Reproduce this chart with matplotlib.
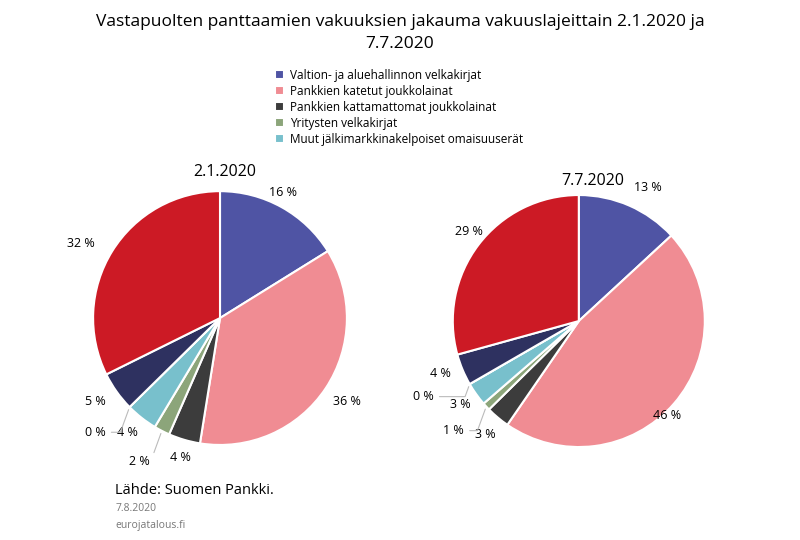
import matplotlib.pyplot as plt
import numpy as np

# categories (legend shows only the first five)
categories = ["Valtion- ja aluehallinnon velkakirjat", "Pankkien katetut joukkolainat",
              "Pankkien kattamattomat joukkolainat", "Yritysten velkakirjat",
              "Muut jälkimarkkinakelpoiset omaisuuserät", "Muu 1", "Muu 2", "Muu 3"]
values_jan = [16, 36, 4, 2, 4, 0, 5, 32]
values_jul = [13, 46, 3, 1, 3, 0, 4, 29]
colors = ["#4F54A4", "#F08C93", "#3C3C3C", "#8CA57A", "#78C0CC", "#DDDDDD", "#2E3160", "#CC1A25"]

# label positions (axes data coords, radius 1)
pos_jan = [(0.5, 0.99), (1.0, -0.66), (-0.31, -1.1), (-0.55, -1.13), (-0.73, -0.9),
           (-0.9, -0.9), (-0.98, -0.66), (-1.1, 0.59)]
pos_jul = [(0.55, 1.06), (0.7, -0.75), (-0.74, -0.9), (-0.91, -0.87), (-0.94, -0.66),
           (-1.15, -0.6), (-1.1, -0.42), (-0.87, 0.71)]
leader = [3, 5]

fig = plt.figure(figsize=(8, 5.4), dpi=100)
plt.rcParams['font.family'] = 'Open Sans'

fig.text(0.5, 0.975, "Vastapuolten panttaamien vakuuksien jakauma vakuuslajeittain 2.1.2020 ja\n7.7.2020",
         ha="center", va="top", fontsize=12.5, linespacing=1.5)


def draw_pie(rect, values, pos, title, tx, ty):
    ax = fig.add_axes(rect)
    wedges, _ = ax.pie(values, colors=colors, startangle=90, counterclock=False,
                       wedgeprops=dict(edgecolor="white", linewidth=1.5))
    ax.set_xlim(-1, 1)
    ax.set_ylim(-1, 1)
    for i, (w, v) in enumerate(zip(wedges, values)):
        x, y = pos[i]
        if i in leader:
            ang = np.deg2rad((w.theta1 + w.theta2) / 2)
            ax.annotate(f"{v} %", xy=(np.cos(ang), np.sin(ang)), xytext=(x, y),
                        ha="right", va="center", fontsize=9, annotation_clip=False,
                        arrowprops=dict(arrowstyle="-", color="#BBBBBB", lw=0.8,
                                        connectionstyle="angle,angleA=0,angleB=70"))
        else:
            ax.text(x, y, f"{v} %", ha="center", va="center", fontsize=9, clip_on=False)
    fig.text(tx, ty, title, ha="center", va="center", fontsize=11.5)
    return wedges


wedges = draw_pie([0.116, 0.176, 0.318, 0.47], values_jan, pos_jan, "2.1.2020", 0.281, 0.682)
draw_pie([0.566, 0.172, 0.315, 0.467], values_jul, pos_jul, "7.7.2020", 0.741, 0.664)

fig.legend(wedges[:5], categories[:5], loc="upper left", bbox_to_anchor=(0.33, 0.892),
           frameon=False, fontsize=8.5, handlelength=0.8, handleheight=0.8,
           labelspacing=0.25, handletextpad=0.5)

fig.text(0.144, 0.092, "Lähde: Suomen Pankki.", fontsize=10.5, va="center")
fig.text(0.144, 0.058, "7.8.2020", fontsize=7.5, color="#777777", va="center")
fig.text(0.144, 0.027, "eurojatalous.fi", fontsize=7.5, color="#777777", va="center")

fig.savefig("out.png", dpi=100)
